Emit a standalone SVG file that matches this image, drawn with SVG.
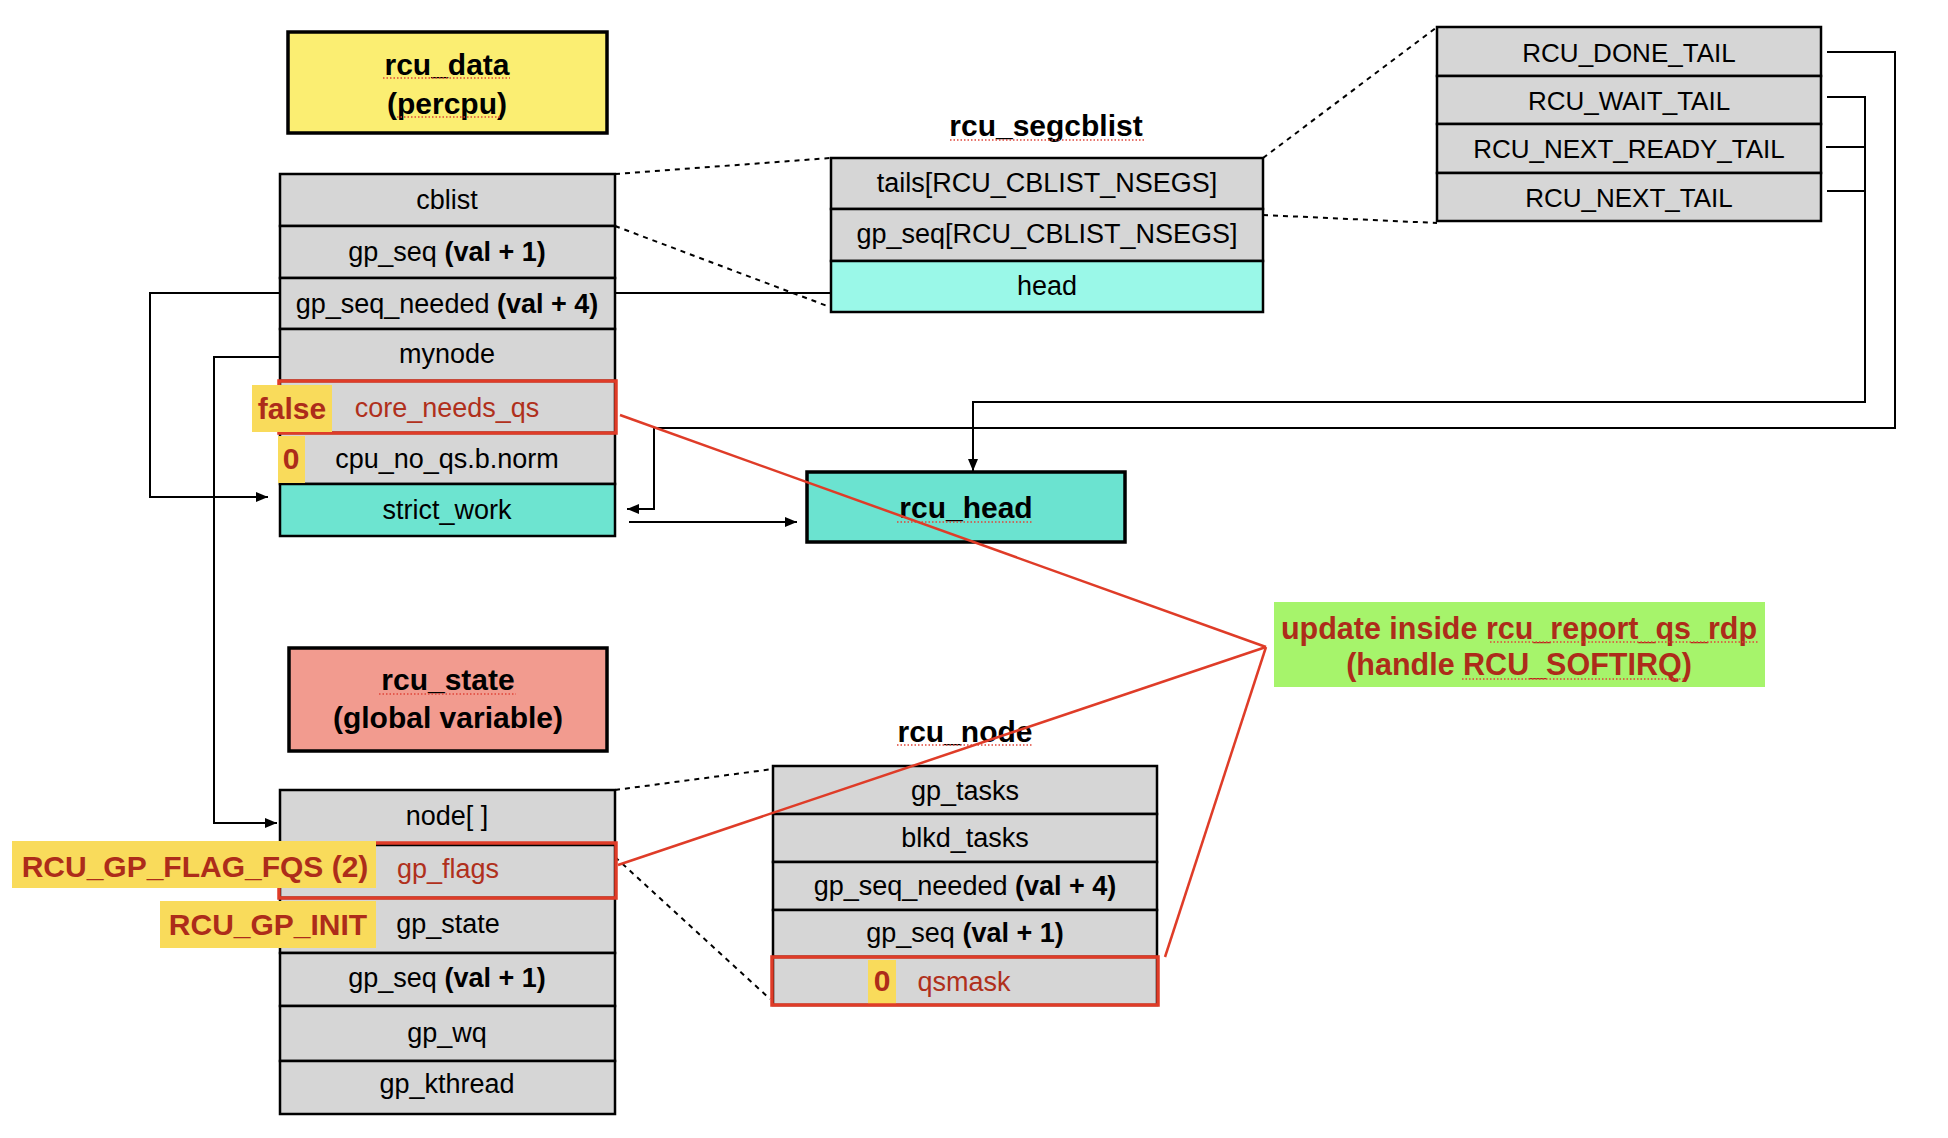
<svg xmlns="http://www.w3.org/2000/svg" width="1948" height="1138" viewBox="0 0 1948 1138">
<defs>
<marker id="ah" viewBox="0 0 12 10" refX="12" refY="5" markerWidth="12" markerHeight="10" markerUnits="userSpaceOnUse" orient="auto"><path d="M0,0 L12,5 L0,10 z" fill="#000"/></marker>
</defs>
<style>
text{font-family:"Liberation Sans",Arial,Helvetica,sans-serif}
.f{font-size:27px;fill:#000;text-anchor:middle}
.ft{font-size:26px;fill:#000;text-anchor:middle}
.b{font-weight:bold}
.t{font-size:30px;font-weight:bold;fill:#000;text-anchor:middle}
.row{fill:#d6d6d6;stroke:#000;stroke-width:2.5}
.lbl{stroke:#000;stroke-width:3.5}
.hl{fill:#f9db5b}
.rt{fill:#b0301c}
.rb{font-size:30px;font-weight:bold;fill:#ad2c1a}
.redbox{fill:none;stroke:#df3c28;stroke-width:3.5}
.red{stroke:#df3c28;stroke-width:2.5;fill:none}
.dot{stroke:#000;stroke-width:2;stroke-dasharray:5 5;fill:none}
.ln{stroke:#000;stroke-width:2;fill:none}
.sq{stroke:#e0453a;stroke-width:1.6;stroke-dasharray:1.5 2;fill:none}
</style>
<rect width="1948" height="1138" fill="#fff"/>

<g id="connectors">
<line class="dot" x1="615" y1="174" x2="831" y2="158"/>
<line class="dot" x1="615" y1="226" x2="830" y2="307"/>
<line class="dot" x1="1263" y1="158" x2="1437" y2="27"/>
<line class="dot" x1="1263" y1="215" x2="1437" y2="223"/>
<line class="dot" x1="615" y1="790" x2="773" y2="769"/>
<line class="dot" x1="615" y1="857" x2="770" y2="999"/>
<polyline class="ln" points="280,293 150,293 150,497 268,497" marker-end="url(#ah)"/>
<line class="ln" x1="615" y1="293" x2="831" y2="293"/>
<polyline class="ln" points="283,357 214,357 214,823 277,823" marker-end="url(#ah)"/>
<polyline class="ln" points="1827,52 1895,52 1895,428 654,428 654,509 627,509" marker-end="url(#ah)"/>
<polyline class="ln" points="1827,97 1865,97 1865,402 973,402 973,471" marker-end="url(#ah)"/>
<line class="ln" x1="1826" y1="147" x2="1865" y2="147"/>
<line class="ln" x1="1827" y1="191" x2="1865" y2="191"/>
<line class="ln" x1="629" y1="522" x2="797" y2="522" marker-end="url(#ah)"/>
</g>

<g id="rcu_data_label">
<rect class="lbl" x="288" y="32" width="319" height="101" fill="#fbee72"/>
<text class="t" x="447" y="75">rcu_data</text>
<text class="t" x="447" y="114">(percpu)</text>
<line class="sq" x1="383" y1="78" x2="510" y2="78"/>
<line class="sq" x1="397" y1="117" x2="500" y2="117"/>
</g>

<g id="rcu_data">
<rect class="row" x="280" y="174" width="335" height="52"/>
<rect class="row" x="280" y="226" width="335" height="52"/>
<rect class="row" x="280" y="278" width="335" height="51"/>
<rect class="row" x="280" y="329" width="335" height="52"/>
<rect class="row" x="280" y="381" width="335" height="52"/>
<rect class="row" x="280" y="433" width="335" height="51"/>
<rect class="row" x="280" y="484" width="335" height="52" style="fill:#6de4d0"/>
<text class="f" x="447" y="209">cblist</text>
<text class="f" x="447" y="261">gp_seq <tspan class="b">(val + 1)</tspan></text>
<text class="f" x="447" y="313">gp_seq_needed <tspan class="b">(val + 4)</tspan></text>
<text class="f" x="447" y="363">mynode</text>
<text class="f rt" x="447" y="417">core_needs_qs</text>
<text class="f" x="447" y="468">cpu_no_qs.b.norm</text>
<text class="f" x="447" y="519">strict_work</text>
<rect class="redbox" x="279" y="381" width="337" height="52"/>
<rect class="hl" x="252" y="385" width="80" height="47"/>
<text class="rb" x="292" y="419" text-anchor="middle">false</text>
<rect class="hl" x="278" y="436" width="27" height="47"/>
<text class="rb" x="291" y="469" text-anchor="middle">0</text>
</g>

<g id="rcu_segcblist">
<text class="t" x="1046" y="136">rcu_segcblist</text>
<line class="sq" x1="950" y1="140" x2="1145" y2="140"/>
<rect class="row" x="831" y="158" width="432" height="51"/>
<rect class="row" x="831" y="209" width="432" height="52"/>
<rect class="row" x="831" y="261" width="432" height="51" style="fill:#9af8e8"/>
<text class="f" x="1047" y="192">tails[RCU_CBLIST_NSEGS]</text>
<text class="f" x="1047" y="243">gp_seq[RCU_CBLIST_NSEGS]</text>
<text class="f" x="1047" y="295">head</text>
</g>

<g id="tails">
<rect class="row" x="1437" y="27" width="384" height="49"/>
<rect class="row" x="1437" y="76" width="384" height="48"/>
<rect class="row" x="1437" y="124" width="384" height="49"/>
<rect class="row" x="1437" y="173" width="384" height="48"/>
<text class="ft" x="1629" y="62">RCU_DONE_TAIL</text>
<text class="ft" x="1629" y="110">RCU_WAIT_TAIL</text>
<text class="ft" x="1629" y="158">RCU_NEXT_READY_TAIL</text>
<text class="ft" x="1629" y="207">RCU_NEXT_TAIL</text>
</g>

<g id="rcu_head">
<rect class="lbl" x="807" y="472" width="318" height="70" fill="#6be3d0"/>
<text class="t" x="966" y="518">rcu_head</text>
<line class="sq" x1="897" y1="522" x2="1033" y2="522"/>
</g>

<g id="rcu_state_label">
<rect class="lbl" x="289" y="648" width="318" height="103" fill="#f29b8f"/>
<text class="t" x="448" y="690">rcu_state</text>
<text class="t" x="448" y="728">(global variable)</text>
<line class="sq" x1="379" y1="694" x2="516" y2="694"/>
</g>

<g id="rcu_state">
<rect class="row" x="280" y="790" width="335" height="55"/>
<rect class="row" x="280" y="845" width="335" height="53"/>
<rect class="row" x="280" y="898" width="335" height="55"/>
<rect class="row" x="280" y="953" width="335" height="53"/>
<rect class="row" x="280" y="1006" width="335" height="55"/>
<rect class="row" x="280" y="1061" width="335" height="53"/>
<text class="f" x="447" y="825">node[ ]</text>
<text class="f rt" x="448" y="878">gp_flags</text>
<text class="f" x="448" y="933">gp_state</text>
<text class="f" x="447" y="987">gp_seq <tspan class="b">(val + 1)</tspan></text>
<text class="f" x="447" y="1042">gp_wq</text>
<text class="f" x="447" y="1093">gp_kthread</text>
<rect class="redbox" x="279" y="843" width="337" height="55"/>
<rect class="hl" x="12" y="841" width="364" height="47"/>
<text class="rb" x="195" y="877" text-anchor="middle">RCU_GP_FLAG_FQS (2)</text>
<rect class="hl" x="160" y="901" width="216" height="47"/>
<text class="rb" x="268" y="935" text-anchor="middle">RCU_GP_INIT</text>
</g>

<g id="rcu_node">
<text class="t" x="965" y="742">rcu_node</text>
<line class="sq" x1="897" y1="745" x2="1033" y2="745"/>
<rect class="row" x="773" y="766" width="384" height="48"/>
<rect class="row" x="773" y="814" width="384" height="48"/>
<rect class="row" x="773" y="862" width="384" height="48"/>
<rect class="row" x="773" y="910" width="384" height="47"/>
<rect class="row" x="773" y="957" width="384" height="48"/>
<text class="f" x="965" y="800">gp_tasks</text>
<text class="f" x="965" y="847">blkd_tasks</text>
<text class="f" x="965" y="895">gp_seq_needed <tspan class="b">(val + 4)</tspan></text>
<text class="f" x="965" y="942">gp_seq <tspan class="b">(val + 1)</tspan></text>
<text class="f rt" x="964" y="991">qsmask</text>
<rect class="hl" x="868" y="960" width="28" height="46"/>
<text class="rb" x="882" y="991" text-anchor="middle">0</text>
<rect class="redbox" x="772" y="957" width="386" height="48"/>
</g>

<g id="note">
<rect x="1274" y="602" width="491" height="85" fill="#a6f46b"/>
<text class="rb" x="1519" y="639" text-anchor="middle" style="font-size:30.5px">update inside rcu_report_qs_rdp</text>
<text class="rb" x="1519" y="675" text-anchor="middle" style="font-size:30.5px">(handle RCU_SOFTIRQ)</text>
<line class="sq" x1="1490" y1="642" x2="1759" y2="642"/>
<line class="sq" x1="1462" y1="679" x2="1685" y2="679"/>
</g>

<g id="red-connectors">
<line class="red" x1="620" y1="415" x2="1266" y2="647"/>
<line class="red" x1="618" y1="865" x2="1266" y2="647"/>
<line class="red" x1="1165" y1="957" x2="1266" y2="647"/>
</g>
</svg>
